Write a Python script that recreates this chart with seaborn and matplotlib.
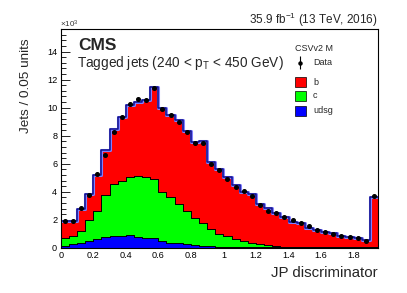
import numpy as np
import pandas as pd
import matplotlib
matplotlib.use("Agg")
import matplotlib.pyplot as plt
import seaborn as sns
from matplotlib.ticker import MultipleLocator
from matplotlib.patches import Rectangle

# ---------------- data (values in units of 10^3 jets) ----------------
bin_edges = [round(0.05 * i, 3) for i in range(40)]
b_jets = [1.18, 1.06, 1.58, 1.91, 2.56, 3.15, 3.90, 4.50, 5.13, 5.26,
          5.52, 6.52, 5.95, 5.85, 6.00, 5.73, 5.37, 5.89, 4.79, 4.60,
          4.23, 3.86, 3.48, 3.47, 2.84, 2.68, 2.38, 2.13, 1.75, 1.69,
          1.39, 1.22, 1.11, 1.00, 0.83, 0.77, 0.65, 0.53, 3.59]
c_jets = [0.55, 0.56, 0.84, 1.45, 1.98, 3.06, 3.70, 3.95, 4.19, 4.38,
          4.31, 4.26, 3.50, 3.24, 2.80, 2.36, 1.96, 1.61, 1.26, 0.93,
          0.76, 0.57, 0.43, 0.31, 0.23, 0.16, 0.10, 0.06, 0.05, 0.04,
          0.03, 0.03, 0.02, 0.02, 0.02, 0.01, 0.01, 0.01, 0.03]
udsg_jets = [0.15, 0.26, 0.36, 0.50, 0.62, 0.74, 0.85, 0.85, 0.88, 0.76,
             0.72, 0.67, 0.50, 0.36, 0.30, 0.24, 0.19, 0.14, 0.09, 0.07,
             0.06, 0.05, 0.04, 0.03, 0.03, 0.02, 0.02, 0.02, 0.01, 0.01,
             0.01, 0.01, 0.01, 0.01, 0.01, 0.01, 0.01, 0.01, 0.02]
data_jets = [1.90, 1.90, 2.82, 3.80, 5.30, 6.60, 8.24, 9.31, 10.26, 10.62,
             10.55, 11.40, 9.93, 9.48, 8.98, 8.29, 7.50, 7.46, 5.98, 5.53,
             4.93, 4.34, 4.02, 3.69, 3.05, 2.64, 2.50, 2.21, 1.98, 1.74,
             1.57, 1.26, 1.14, 1.00, 0.86, 0.76, 0.71, 0.48, 3.71]
flavours = ["b", "c", "udsg"]
colors = {"b": "#ff0000", "c": "#00ff00", "udsg": "#0000ff"}

edges = np.array(bin_edges)
centers = 0.5 * (edges[:-1] + edges[1:])
df = pd.concat([
    pd.DataFrame({"x": centers, "w": vals, "flavour": name})
    for name, vals in zip(flavours, [b_jets, c_jets, udsg_jets])
], ignore_index=True)
total = np.array(b_jets) + np.array(c_jets) + np.array(udsg_jets)
df_tot = pd.DataFrame({"x": centers, "w": total})

# ---------------- style ----------------
sns.set_style("ticks")
plt.rcParams["font.family"] = ["Liberation Sans", "DejaVu Sans"]
plt.rcParams["mathtext.fontset"] = "custom"
plt.rcParams["mathtext.rm"] = "Liberation Sans"
plt.rcParams["mathtext.it"] = "Liberation Sans"
plt.rcParams["mathtext.bf"] = "Liberation Sans:bold"

fig = plt.figure(figsize=(4.07, 2.93), dpi=100)
ax = fig.add_axes([60.7 / 407, 1 - 247.7 / 293, (378 - 60.7) / 407, (247.7 - 29.3) / 293])

sns.histplot(df, x="x", weights="w", hue="flavour", hue_order=flavours,
             multiple="stack", bins=bin_edges, element="step", fill=True,
             palette=colors, alpha=1, edgecolor="black", linewidth=0.7,
             legend=False, ax=ax)
sns.histplot(df_tot, x="x", weights="w", bins=bin_edges, element="step",
             fill=False, color="#8080ff", linewidth=2.2, ax=ax)
sns.histplot(df_tot, x="x", weights="w", bins=bin_edges, element="step",
             fill=False, color="#10108c", linewidth=1.1, ax=ax)

data_arr = np.array(data_jets)
ax.errorbar(centers, data_arr, yerr=np.sqrt(data_arr * 1000) / 1000,
            fmt="o", color="black", ms=2.6, elinewidth=0.8, capsize=0, zorder=5)

ax.set_xlim(0, 1.95)
ax.set_ylim(0, 15.6)
ax.set_xlabel("")
ax.set_ylabel("")
ax.xaxis.set_major_locator(MultipleLocator(0.2))
ax.xaxis.set_minor_locator(MultipleLocator(0.04))
ax.yaxis.set_major_locator(MultipleLocator(2))
ax.yaxis.set_minor_locator(MultipleLocator(0.4))
ax.xaxis.set_major_formatter(matplotlib.ticker.FuncFormatter(lambda v, p: f"{v:g}"))
ax.tick_params(which="both", direction="in", labelsize=6.6, top=False, right=False,
               width=0.6, colors="black")
ax.tick_params(which="major", length=6.5, pad=2.5)
ax.tick_params(which="minor", length=3.3)
for s in ax.spines.values():
    s.set_linewidth(0.8)
    s.set_color("black")

# ---------------- texts ----------------
fig.text(26 / 407, 1 - 38 / 293, "Jets / 0.05 units", rotation=90,
         ha="center", va="top", fontsize=9.7)
fig.text(378 / 407, 1 - 273 / 293, "JP discriminator", ha="right", va="center",
         fontsize=10.8)
fig.text(378 / 407, 1 - 20 / 293, r"35.9 fb$^{-1}$ (13 TeV, 2016)", ha="right",
         va="center", fontsize=8.5)
fig.text(60 / 407, 1 - 24 / 293, r"$\times$10$^{3}$", ha="left", va="center",
         fontsize=5.8, color="#333333")
ax.text(0.054, 0.928, "CMS", transform=ax.transAxes, fontsize=12.5,
        fontweight="bold", ha="left", va="center")
ax.text(0.051, 0.846, r"Tagged jets (240 < $\mathrm{p_{T}}$ < 450 GeV)",
        transform=ax.transAxes, fontsize=9.8, ha="left", va="center")

# legend
ax.text(0.738, 0.914, "CSVv2 M", transform=ax.transAxes, fontsize=6.5,
        ha="left", va="center")
ax.errorbar([0.755], [0.847], yerr=[0.03], fmt="o", color="black", ms=2.2,
            elinewidth=0.8, capsize=0, transform=ax.transAxes, clip_on=False)
ax.text(0.795, 0.847, "Data", transform=ax.transAxes, fontsize=6.5,
        ha="left", va="center")
for lab, yc in zip(flavours, [0.758, 0.695, 0.626]):
    ax.add_patch(Rectangle((0.738, yc - 0.022), 0.036, 0.044, transform=ax.transAxes,
                           facecolor=colors[lab], edgecolor="black", linewidth=0.5))
    ax.text(0.795, yc, lab, transform=ax.transAxes, fontsize=6.5,
            ha="left", va="center")

fig.savefig("out.png", dpi=100)
